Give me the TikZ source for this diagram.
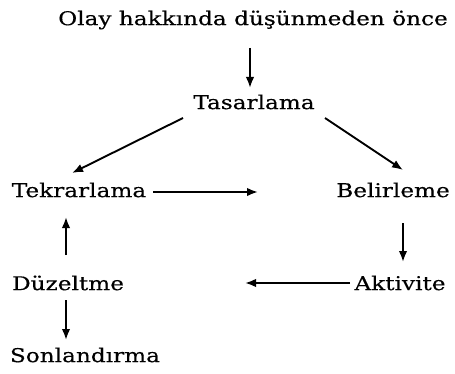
\documentclass[tikz,border=0pt]{standalone}
\usepackage{fontspec}
\setmainfont[FakeStretch=1.22]{DejaVu Serif}
\newfontfamily\lblfont[FakeStretch=1.22,FakeBold=0.35]{DejaVu Serif}
\usetikzlibrary{arrows.meta}
\begin{document}
\begin{tikzpicture}[x=1pt,y=1pt,
  lbl/.style={inner sep=0pt, font=\lblfont\fontsize{19}{21}\selectfont},
  arr/.style={line width=1.9pt, -{Latex[length=11pt,width=8.5pt]}}]
\useasboundingbox (0,0) rectangle (455,373);
\node[lbl] (olay) at (253,353) {Olay hakkında düşünmeden önce};
\node[lbl] (tas)  at (254,271) {Tasarlama};
\node[lbl] (tek)  at (79,183)  {Tekrarlama};
\node[lbl] (bel)  at (393,183) {Belirleme};
\node[lbl] (akt)  at (400,90)  {Aktivite};
\node[lbl] (duz)  at (68,90)   {Düzeltme};
\node[lbl] (son)  at (85,18)   {Sonlandırma};
\coordinate (c1) at (258,181);
\coordinate (c2) at (245,90);
\draw[arr] ([shift={(-3,-28)}]olay.center) -- ([shift={(-4,14)}]tas.center);
\draw[arr] ([shift={(-71,-16)}]tas.center) -- ([shift={(-7,17)}]tek.center);
\draw[arr] ([shift={(71,-16)}]tas.center) -- ([shift={(10,20)}]bel.center);
\draw[arr] ([shift={(74,-2)}]tek.center) -- (c1);
\draw[arr] ([shift={(10,-33)}]bel.center) -- ([shift={(3,21)}]akt.center);
\draw[arr] ([shift={(-50,0)}]akt.center) -- (c2);
\draw[arr] ([shift={(-2,28)}]duz.center) -- ([shift={(-13,-27)}]tek.center);
\draw[arr] ([shift={(-2,-17)}]duz.center) -- ([shift={(-19,15)}]son.center);
\end{tikzpicture}
\end{document}
